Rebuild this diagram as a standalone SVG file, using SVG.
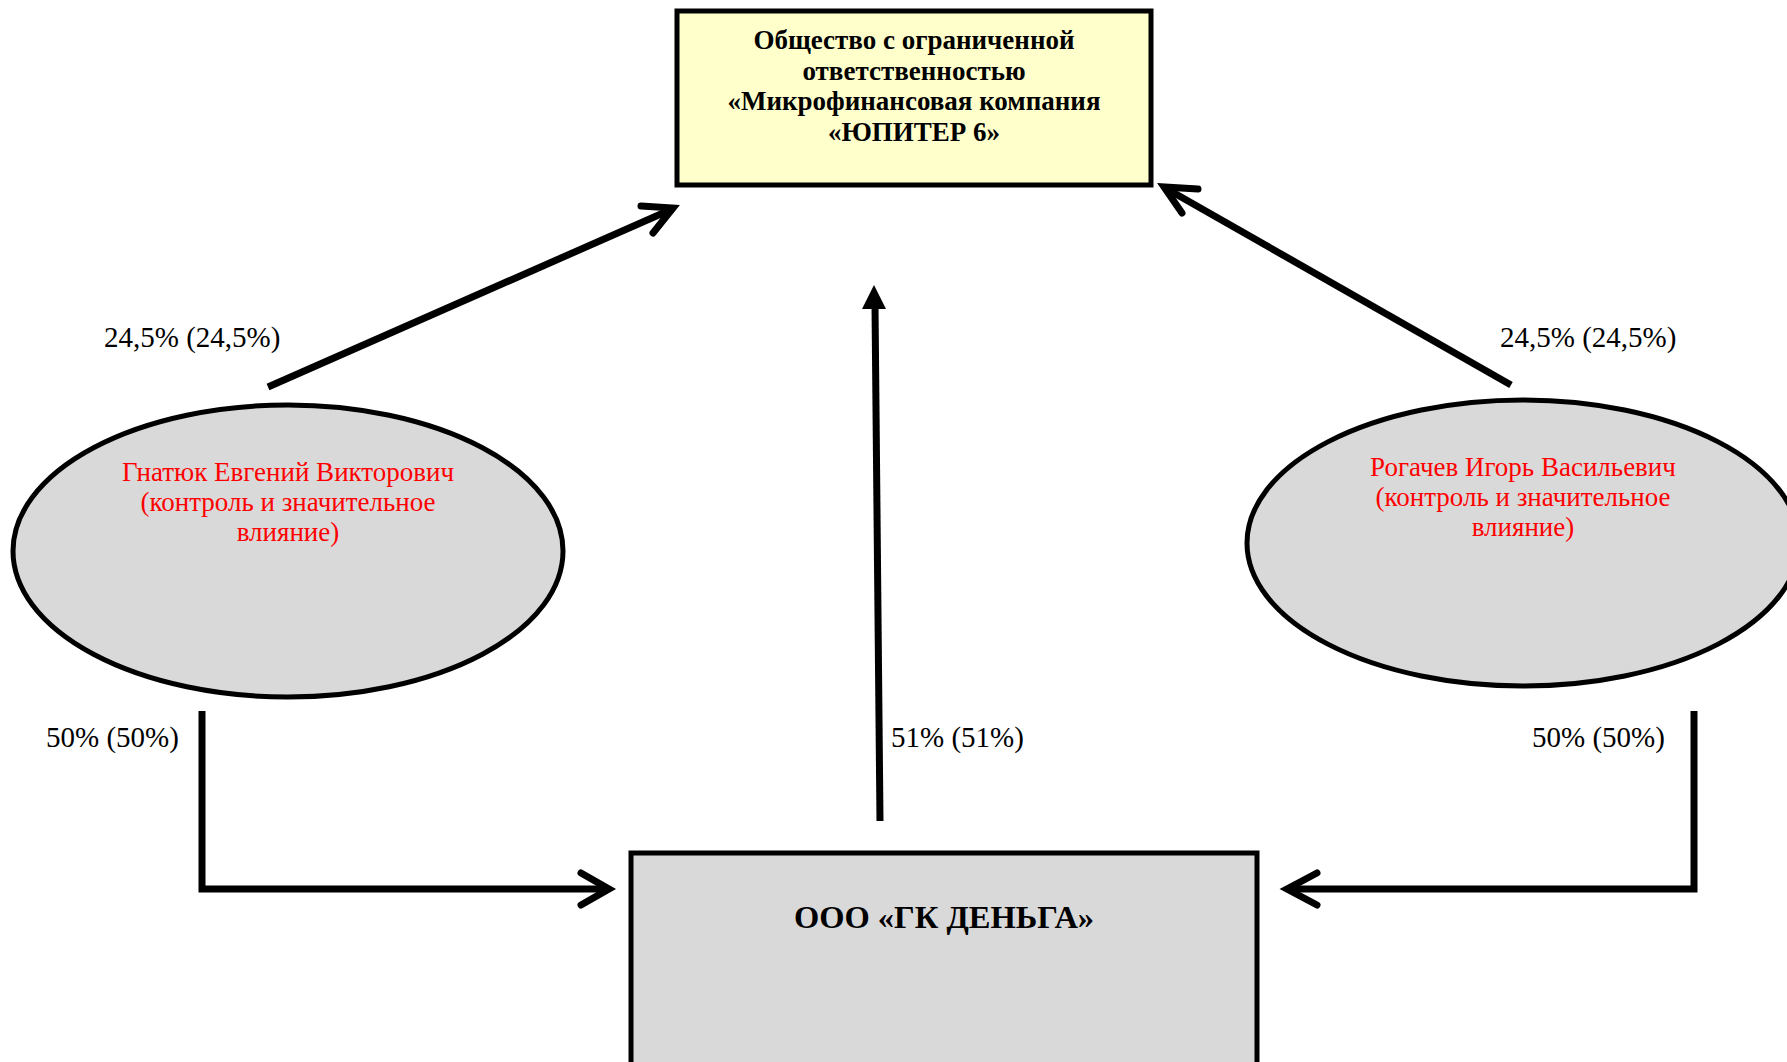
<svg xmlns="http://www.w3.org/2000/svg" width="1787" height="1062" viewBox="0 0 1787 1062">
<defs>
<style>
.box{stroke:#000;stroke-width:5}
.ell{fill:#d9d9d9;stroke:#000;stroke-width:5}
.bt{font-family:"Liberation Serif","Times New Roman",serif;font-weight:bold;fill:#000;text-anchor:middle}
.rt{font-family:"Liberation Serif","Times New Roman",serif;font-size:27px;fill:#ff0000;text-anchor:middle}
.lb{font-family:"Liberation Serif","Times New Roman",serif;font-size:29px;fill:#000}
.ln{fill:none;stroke:#000;stroke-width:7}
.hd{fill:none;stroke:#000;stroke-width:7;stroke-linecap:round;stroke-linejoin:miter}
</style>
</defs>
<rect width="1787" height="1062" fill="#fff"/>
<g id="connectors">
<line class="ln" x1="268" y1="387" x2="670" y2="210"/>
<polyline class="hd" points="641,206 673,208 653,233"/>
<line class="ln" x1="1511" y1="385" x2="1167" y2="189"/>
<polyline class="hd" points="1198,189 1164,187 1182,213"/>
<line class="ln" x1="880" y1="821" x2="875" y2="305"/>
<polygon points="874,285 862,309 886,309" fill="#000"/>
<polyline class="ln" points="202,711 202,889 606,889" style="stroke-linejoin:miter"/>
<polyline class="hd" points="581,873 609,889 581,905"/>
<polyline class="ln" points="1694,711 1694,889 1290,889" style="stroke-linejoin:miter"/>
<polyline class="hd" points="1317,873 1287,889 1317,905"/>
<text class="lb" x="104" y="347">24,5% (24,5%)</text>
<text class="lb" x="1500" y="347">24,5% (24,5%)</text>
<text class="lb" x="46" y="747">50% (50%)</text>
<text class="lb" x="1532" y="747">50% (50%)</text>
<text class="lb" x="891" y="747">51% (51%)</text>
</g>
<g id="node-jupiter">
<rect class="box" x="677" y="11" width="474" height="174" fill="#ffffcc"/>
<text class="bt" font-size="27" x="914" y="49">Общество с ограниченной</text>
<text class="bt" font-size="27" x="914" y="80">ответственностью</text>
<text class="bt" font-size="27" x="914" y="110">«Микрофинансовая компания</text>
<text class="bt" font-size="27" x="914" y="141">«ЮПИТЕР 6»</text>
</g>
<g id="node-gnatyuk">
<ellipse class="ell" cx="288" cy="551" rx="275" ry="146"/>
<text class="rt" x="288" y="481">Гнатюк Евгений Викторович</text>
<text class="rt" x="288" y="511">(контроль и значительное</text>
<text class="rt" x="288" y="541">влияние)</text>
</g>
<g id="node-rogachev">
<ellipse class="ell" cx="1523" cy="543" rx="276" ry="143"/>
<text class="rt" x="1523" y="476">Рогачев Игорь Васильевич</text>
<text class="rt" x="1523" y="506">(контроль и значительное</text>
<text class="rt" x="1523" y="536">влияние)</text>
</g>
<g id="node-denga">
<rect class="box" x="631" y="853" width="626" height="215" fill="#d9d9d9"/>
<text class="bt" font-size="32.5" x="944" y="928">ООО «ГК ДЕНЬГА»</text>
</g>
</svg>
